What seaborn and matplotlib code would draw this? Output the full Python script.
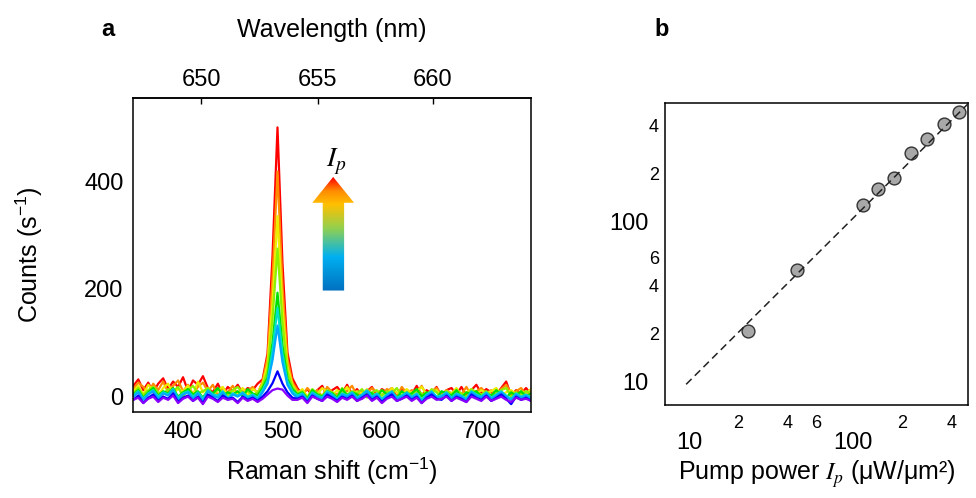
import numpy as np
import pandas as pd
import matplotlib
matplotlib.use("Agg")
import matplotlib.pyplot as plt
import seaborn as sns
from matplotlib.colors import LinearSegmentedColormap
from matplotlib.patches import Polygon
from matplotlib.ticker import FixedLocator, FixedFormatter, NullLocator

# ---------------- data ----------------
raman_shift = list(range(350, 751, 5))          # cm^-1 grid (81 points)

counts_red = [20, 32, 12, 26, 8, 24, 34, 14, 28, 18, 36, 10, 30, 22, 38, 16, 8, 24, 4, 18, 10, 22, 6, 16, 12, 24,
              32, 80, 262, 500, 248, 82, 34,
              16, 4, 14, 2, 12, 20, 0, 12, 18, 6, 22, 4, 14, 0, 10, 18, 2, 14, 8, 16, 0, 14, 10, 4, 20, 2, 12, 6, 18, 0,
              12, 16, 4, 18, 2, 12, 22, 6, 14, 8, 4, 16, 28, 2, 12, 6, 16, 4]
counts_orange = [14, 26, 18, 6, 24, 12, 28, 8, 20, 30, 10, 22, 4, 18, 26, 10, 22, 2, 16, 8, 20, 4, 14, 10, 18, 6,
                 28, 72, 220, 418, 205, 70, 26,
                 12, 2, 16, 6, 12, 0, 18, 8, 4, 14, 10, 20, 2, 12, 6, 16, 8, 2, 14, 10, 0, 18, 6, 12, 8, 20, 2, 10, 16, 4,
                 12, 6, 14, 4, 18, 2, 10, 16, 6, 12, 2, 14, 22, 6, 10, 16, 4, 8]
counts_yellow = [10, 20, 4, 22, 12, 2, 16, 24, 6, 14, 10, 20, 2, 28, 8, 16, 4, 12, 18, 0, 12, 6, 16, 2, 14, 8,
                 24, 60, 175, 335, 165, 56, 22,
                 6, 14, 0, 12, 4, 16, 8, 2, 12, 6, 18, 2, 10, 6, 14, 0, 6, 12, 4, 16, 8, 2, 14, 6, 10, 18, 4, 8, 12, 0,
                 10, 6, 16, 2, 8, 14, 4, 12, 6, 10, 16, 2, 8, 12, 4, 10, 6, 14]
counts_lime = [6, 16, 2, 12, 18, 8, 4, 14, 10, 18, 0, 12, 20, 6, 10, 16, 2, 14, 8, 4, 12, 18, 6, 10, 2, 8,
               20, 48, 145, 275, 138, 46, 18,
               6, 10, -2, 14, 6, 2, 12, 8, 0, 16, 4, 10, 6, 14, -2, 8, 12, 2, 10, 6, 16, 0, 8, 4, 12, 6, 2, 14, 8, -2,
               10, 4, 12, 6, 0, 14, 8, 4, 10, 2, 6, 12, 16, 0, 8, 4, 10, 6]
counts_green = [4, 12, -2, 8, 16, 2, 10, 6, 16, 0, 8, 14, 4, 10, -2, 12, 6, 16, 2, 8, 4, 10, 0, 14, 6, 2,
                16, 36, 100, 193, 95, 33, 14,
                4, 8, -4, 12, 4, 0, 10, 6, -2, 14, 2, 8, 4, -4, 10, 6, 0, 12, 4, 8, -2, 10, 2, 6, 14, 0, 8, 4, -4, 10,
                6, 2, 12, -2, 8, 4, 10, 0, 6, 2, 12, 4, -2, 8, 2, 10, 0, 6]
counts_cyan = [2, 10, -4, 6, 12, 0, 8, 4, 14, -2, 6, 10, 0, 8, -4, 12, 4, 2, 10, -2, 6, 2, 8, 0, 4, -2,
               12, 30, 86, 165, 80, 28, 10,
               2, 6, -6, 8, 2, -2, 10, 4, -4, 6, 2, 8, -2, 4, 12, 0, 6, -4, 4, 10, -2, 2, 8, 0, 6, -6, 4, 10, 0, 2,
               8, -2, 6, 2, -4, 10, 4, 0, 8, -2, 4, 10, 2, -4, 6, 0, 4, -2]
counts_skyblue = [0, 8, -6, 4, 10, -4, 6, 2, 12, -6, 4, 8, -4, 6, -8, 10, 2, -2, 8, -6, 4, 0, 6, -4, 2, -6,
                  8, 24, 68, 132, 64, 22, 6,
                  -2, 4, -8, 6, 0, -4, 8, 2, -6, 4, 0, 6, -4, 2, 10, -2, 4, -8, 2, 8, -4, 0, 6, -2, 4, -10, 2, 8, -2, 0,
                  6, -4, 4, 0, -6, 8, 2, -2, 6, -4, 2, 8, 0, -6, 4, -2, 2, -4]
counts_blue = [-6, 2, -12, -2, 4, -8, 0, -4, 6, -10, -2, 2, -8, 0, -12, 4, -2, -8, 2, -4, -2, -10, 0, -6, -2, -8,
               0, 10, 25, 47, 24, 8, -2,
               -4, 0, -10, 2, -4, -8, 4, -2, -8, 0, -4, 2, -8, -2, 4, -6, 0, -10, -2, 4, -8, -4, 2, -6, 0, -12, -2, 4, -4, -6,
               2, -8, 0, -4, -10, 4, -2, -6, 2, -8, -2, 4, -4, -14, 0, -6, -2, -8]
counts_purple = [-6, -2, -12, -4, 0, -10, -2, -6, 2, -12, -4, 0, -8, -2, -14, 0, -4, -10, -2, -6, -4, -12, -2, -8, -4, -10,
                 -4, 4, 12, 15, 13, 2, -6,
                 -6, -2, -12, 0, -4, -8, 0, -4, -10, -2, -6, 0, -8, -4, 2, -8, -2, -12, -4, 0, -8, -4, 0, -8, -2, -12, -4, 0, -6, -4,
                 0, -8, -2, -6, -10, 0, -4, -8, 0, -8, -4, 0, -6, -10, -2, -6, -4, -8]

spectrum_levels = ["red", "orange", "yellow", "lime", "green", "cyan", "skyblue", "blue", "purple"]
spectrum_colors = ["#ff0000", "#ff8c00", "#ecec00", "#8cf000", "#00e000", "#00e0c8", "#00a8ff", "#0000ff", "#8a00ff"]
spectra = [counts_red, counts_orange, counts_yellow, counts_lime, counts_green,
           counts_cyan, counts_skyblue, counts_blue, counts_purple]
for _s in spectra:
    assert len(_s) == len(raman_shift), len(_s)

pump_power = [23.0, 45.4, 114.6, 142.7, 177.8, 225.8, 281.5, 358.8, 444.9]     # uW/um^2
peak_counts = [20.8, 50.1, 127.7, 160.0, 187.6, 271.0, 330.0, 408.0, 489.0]    # s^-1
fit_line_x = [9.6, 520.0]
fit_line_y = [9.67, 567.0]

laser_nm = 632.8
wl_ticks = [650, 655, 660]
raman_ticks = [400, 500, 600, 700]
count_ticks = [0, 200, 400]

# ---------------- style ----------------
sns.set_style("white")
plt.rcParams["font.family"] = ["Liberation Sans", "DejaVu Sans"]
plt.rcParams["mathtext.default"] = "regular"
for key in ("text.color", "axes.labelcolor", "xtick.color", "ytick.color", "axes.edgecolor"):
    plt.rcParams[key] = "black"

fig = plt.figure(figsize=(9.76, 4.98), dpi=100)
axA = fig.add_axes([0.1366, 0.1733, 0.4075, 0.6293])
axB = fig.add_axes([0.6814, 0.1867, 0.3104, 0.6071])

# ---------------- panel a ----------------
rows = []
for lvl, vals in zip(spectrum_levels, spectra):
    for x, y in zip(raman_shift, vals):
        rows.append((x, y, lvl))
df = pd.DataFrame(rows, columns=["shift", "counts", "level"])
sns.lineplot(data=df, x="shift", y="counts", hue="level", hue_order=spectrum_levels,
             palette=spectrum_colors, estimator=None, sort=False, lw=1.6, legend=False, ax=axA)

# gradient arrow
arrow_cmap = LinearSegmentedColormap.from_list(
    "arrow", [(0.0, "#0070c0"), (0.3, "#00b0f0"), (0.55, "#92d050"),
              (0.76, "#ffc000"), (0.88, "#ff8c00"), (1.0, "#ff0000")])
grad = np.linspace(0, 1, 256).reshape(-1, 1)
im = axA.imshow(grad, cmap=arrow_cmap, origin="lower", extent=[530, 572, 197, 408],
                aspect="auto", zorder=5, interpolation="bilinear")
poly = Polygon([(540.5, 197), (562, 197), (562, 360), (572, 360), (551, 408), (530, 360), (540.5, 360)],
               closed=True, transform=axA.transData, facecolor="none", edgecolor="none")
axA.add_patch(poly)
im.set_clip_path(poly)
axA.text(554, 436, r"$\mathit{I}_{\mathit{p}}$", math_fontfamily="stix", fontsize=20,
         ha="center", va="center")

axA.set_xlim(350, 750)
axA.set_ylim(-28, 554)
axA.set_xticks(raman_ticks)
axA.set_yticks(count_ticks)
axA.tick_params(direction="in", length=4, width=1, labelsize=17, pad=7,
                top=False, right=False, colors="black")
axA.set_xlabel("Raman shift (cm$^{-1}$)", fontsize=18, labelpad=9)
axA.set_ylabel("Counts (s$^{-1}$)", fontsize=18, labelpad=28)
for s in axA.spines.values():
    s.set_linewidth(1.1)
    s.set_color("black")

def to_wl(s):
    return 1e7 / (1e7 / laser_nm - np.asarray(s, dtype=float))

def to_shift(w):
    return 1e7 / laser_nm - 1e7 / np.asarray(w, dtype=float)

sec = axA.secondary_xaxis("top", functions=(to_wl, to_shift))
sec.set_xticks(wl_ticks)
sec.xaxis.set_minor_locator(NullLocator())
sec.tick_params(direction="in", length=4, width=1, labelsize=17, pad=5.5, colors="black")
sec.set_xlabel("Wavelength (nm)", fontsize=18, labelpad=23)
sec.spines["top"].set_linewidth(1.1)

# ---------------- panel b ----------------
axB.set_xscale("log")
axB.set_yscale("log")
sns.scatterplot(x=pump_power, y=peak_counts, s=85, color="#a8a8a8", edgecolor="#333333",
                linewidth=1, ax=axB, zorder=2)
axB.plot(fit_line_x, fit_line_y, ls=(0, (5, 3)), color="#222222", lw=1.1, zorder=3)
axB.set_xlim(7.14, 502)
axB.set_ylim(7.18, 556)

minor_pos = [8, 9, 20, 30, 40, 50, 60, 70, 80, 90, 200, 300, 400]
minor_lab = ["", "", "2", "", "4", "", "6", "", "", "", "2", "", "4"]
for axis in (axB.xaxis, axB.yaxis):
    axis.set_major_locator(FixedLocator([10, 100]))
    axis.set_major_formatter(FixedFormatter(["10", "100"]))
    axis.set_minor_locator(FixedLocator(minor_pos))
    axis.set_minor_formatter(FixedFormatter(minor_lab))

axB.tick_params(which="both", direction="in", top=False, right=False, width=1, colors="black")
axB.tick_params(which="major", length=4, labelsize=17)
axB.tick_params(which="minor", length=2.5, labelsize=13)
axB.tick_params(axis="x", which="major", pad=19.5)
axB.tick_params(axis="x", which="minor", pad=7)
axB.tick_params(axis="y", which="major", pad=12)
axB.tick_params(axis="y", which="minor", pad=4.5)
axB.set_xlabel(r"Pump power $\mathit{I}_{\mathit{p}}$ (μW/μm²)", fontsize=18,
               math_fontfamily="stix", labelpad=3)
for s in axB.spines.values():
    s.set_linewidth(1.1)
    s.set_color("black")

# panel letters
fig.text(108 / 976, 1 - 30 / 498, "a", fontsize=17, fontweight="bold", ha="center", va="center")
fig.text(662 / 976, 1 - 30 / 498, "b", fontsize=17, fontweight="bold", ha="center", va="center")

fig.savefig("out.png", dpi=100)
